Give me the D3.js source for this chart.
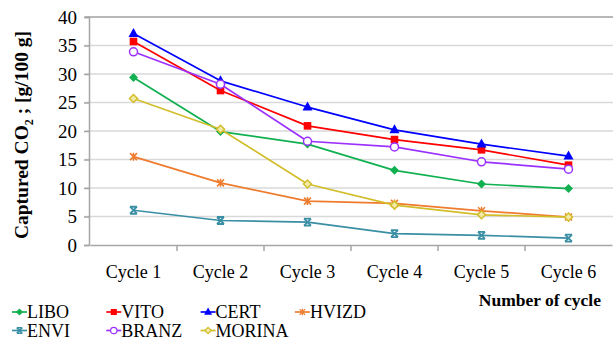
<!DOCTYPE html>
<html>
<head>
<meta charset="utf-8">
<script src="https://cdn.jsdelivr.net/npm/d3@7"></script>
<style>
  body { margin: 0; background: #fff; }
  svg { display: block; font-family: "Liberation Serif", "Times New Roman", serif; }
</style>
</head>
<body>
<div id="chart"></div>
<script>
const cycles = ['Cycle 1', 'Cycle 2', 'Cycle 3', 'Cycle 4', 'Cycle 5', 'Cycle 6'];
const yTicks = [0, 5, 10, 15, 20, 25, 30, 35, 40];

const LIBO   = [29.4, 19.9, 17.7, 13.1, 10.7, 9.9];
const VITO   = [35.7, 27.1, 20.9, 18.5, 16.7, 14.0];
const CERT   = [37.1, 28.8, 24.2, 20.2, 17.7, 15.6];
const HVIZD  = [15.5, 10.9, 7.7, 7.3, 6.0, 4.9];
const ENVI   = [6.1, 4.3, 4.0, 2.0, 1.7, 1.2];
const BRANZ  = [33.9, 28.2, 18.2, 17.2, 14.6, 13.3];
const MORINA = [25.7, 20.3, 10.7, 7.0, 5.3, 4.9];

const series = [
  {name: 'LIBO', values: LIBO, color: '#10b050', marker: 'diamond'},
  {name: 'VITO', values: VITO, color: '#ff0000', marker: 'square'},
  {name: 'CERT', values: CERT, color: '#0000ff', marker: 'triangle'},
  {name: 'HVIZD', values: HVIZD, color: '#ef7b2d', marker: 'star'},
  {name: 'ENVI', values: ENVI, color: '#3a8fa5', marker: 'xbar'},
  {name: 'BRANZ', values: BRANZ, color: '#9b30ff', marker: 'circle'},
  {name: 'MORINA', values: MORINA, color: '#d2bd2a', marker: 'odiamond'},
];

const width = 613, height = 338;
const margin = {top: 17, right: 1, bottom: 93, left: 90};
const serif = '"Liberation Serif", "Times New Roman", serif';

const svg = d3.select('#chart').append('svg')
  .attr('width', width)
  .attr('height', height)
  .attr('viewBox', `0 0 ${width} ${height}`)
  .attr('font-family', serif);

const x = d3.scaleBand()
  .domain(cycles)
  .range([margin.left, width - margin.right]);

const y = d3.scaleLinear()
  .domain([0, 40])
  .range([height - margin.bottom, margin.top]);

// gridlines
svg.append('g')
  .selectAll('line')
  .data(yTicks.filter(d => d > 0))
  .join('line')
    .attr('x1', margin.left - 5)
    .attr('x2', width)
    .attr('y1', d => y(d))
    .attr('y2', d => y(d))
    .attr('stroke', d => d === 40 ? '#a0a0a0' : '#d9d9d9')
    .attr('stroke-width', 1.5);

// y axis
const yAxis = g => g
  .attr('transform', `translate(${margin.left - 1},0)`)
  .call(d3.axisLeft(y).tickValues(yTicks).tickSize(5).tickPadding(7))
  .attr('font-family', serif)
  .call(g => g.select('.domain').attr('stroke', '#a6a6a6').attr('stroke-width', 1.5))
  .call(g => g.selectAll('.tick line').attr('stroke', '#a6a6a6').attr('stroke-width', 1.5))
  .call(g => g.selectAll('.tick text')
      .attr('font-size', 19)
      .attr('fill', '#000'));

svg.append('g').call(yAxis);

// x axis
const xAxis = g => g
  .attr('transform', `translate(0,${y(0)})`)
  .call(d3.axisBottom(x).tickSize(0).tickPadding(20).tickSizeOuter(0))
  .attr('font-family', serif)
  .call(g => g.select('.domain').attr('stroke', '#a6a6a6').attr('stroke-width', 1.5))
  .call(g => g.selectAll('.tick text')
      .attr('font-size', 18)
      .attr('fill', '#000'));

svg.append('g').call(xAxis);

// band boundary ticks
svg.append('g')
  .selectAll('line')
  .data(cycles.slice(1))
  .join('line')
    .attr('x1', d => x(d))
    .attr('x2', d => x(d))
    .attr('y1', y(0))
    .attr('y2', y(0) + 6)
    .attr('stroke', '#a6a6a6')
    .attr('stroke-width', 1.5);

const cx = c => x(c) + x.bandwidth() / 2;

const drawMarker = (g, type, color) => {
  if (type === 'diamond') {
    g.append('path').attr('d', 'M0,-4.5L4.5,0L0,4.5L-4.5,0Z').attr('fill', color);
  } else if (type === 'odiamond') {
    g.append('path').attr('d', 'M0,-4L4,0L0,4L-4,0Z')
      .attr('fill', '#f3e9a8').attr('stroke', color).attr('stroke-width', 1.5);
  } else if (type === 'square') {
    g.append('rect').attr('x', -3.8).attr('y', -3.8).attr('width', 7.6).attr('height', 7.6).attr('fill', color);
  } else if (type === 'triangle') {
    g.append('path').attr('d', 'M0,-5.5L5,3.5L-5,3.5Z').attr('fill', color);
  } else if (type === 'circle') {
    g.append('circle').attr('r', 4).attr('fill', '#fff').attr('stroke', color).attr('stroke-width', 1.5);
  } else if (type === 'star') {
    g.append('path').attr('d', 'M-3.5,-3.5L3.5,3.5M-3.5,3.5L3.5,-3.5M0,-4L0,4')
      .attr('stroke', color).attr('stroke-width', 1.5);
  } else if (type === 'xbar') {
    g.append('path').attr('d', 'M-3.5,-3.5L3.5,3.5M-3.5,3.5L3.5,-3.5M-3.5,-3.5L3.5,-3.5M-3.5,3.5L3.5,3.5')
      .attr('stroke', color).attr('stroke-width', 1.8);
  }
};

const line = d3.line()
  .x((d, i) => cx(cycles[i]))
  .y(d => y(d));

const plot = svg.append('g');

series.forEach(s => {
  plot.append('path')
    .attr('d', line(s.values))
    .attr('fill', 'none')
    .attr('stroke', s.color)
    .attr('stroke-width', 1.7)
    .attr('stroke-linejoin', 'round');
  s.values.forEach((v, i) => {
    const g = plot.append('g').attr('transform', `translate(${cx(cycles[i])},${y(v)})`);
    drawMarker(g, s.marker, s.color);
  });
});

// y axis title
svg.append('text')
  .attr('transform', `translate(28,${(margin.top + y(0)) / 2 + 4}) rotate(-90)`)
  .attr('text-anchor', 'middle')
  .attr('font-size', 19.5)
  .attr('font-weight', 'bold')
  .attr('fill', '#000')
  .call(t => {
    t.append('tspan').text('Captured CO');
    t.append('tspan').attr('font-size', 12).attr('dy', 5).text('2');
    t.append('tspan').attr('dy', -5).text(' ;  [g/100 g]');
  });

// x axis title
svg.append('text')
  .attr('x', 601)
  .attr('y', 306)
  .attr('text-anchor', 'end')
  .attr('font-size', 17.5)
  .attr('font-weight', 'bold')
  .attr('fill', '#000')
  .text('Number of cycle');

// legend
const legend = svg.append('g')
  .selectAll('g')
  .data(series)
  .join('g')
    .attr('transform', (d, i) => `translate(${12 + (i % 4) * 94.3},${i < 4 ? 312 : 330.5})`);

legend.append('line')
  .attr('x1', 0).attr('x2', 15)
  .attr('stroke', d => d.color)
  .attr('stroke-width', 1.7);

legend.each(function(d) {
  const g = d3.select(this).append('g').attr('transform', 'translate(7.5,0) scale(0.8)');
  drawMarker(g, d.marker, d.color);
});

legend.append('text')
  .attr('x', 15)
  .attr('y', 6)
  .attr('font-size', 18)
  .attr('fill', '#000')
  .text(d => d.name);
</script>
</body>
</html>
